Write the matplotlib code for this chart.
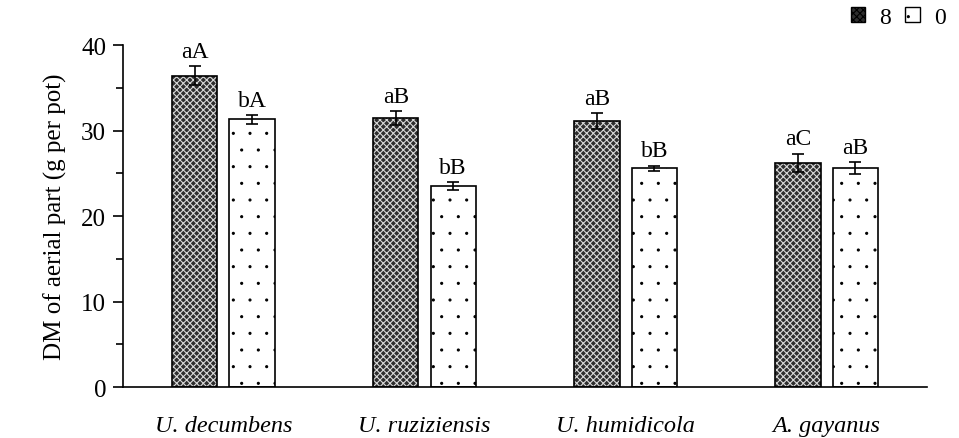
import matplotlib
matplotlib.use("Agg")
import matplotlib.pyplot as plt
import matplotlib.hatch
import numpy as np
from matplotlib.patches import Patch

categories = ["U. decumbens", "U. ruziziensis", "U. humidicola", "A. gayanus"]
series_names = ["8", "0"]
vals_8 = [36.4, 31.5, 31.1, 26.2]
err_8 = [1.1, 0.8, 0.9, 1.1]
vals_0 = [31.3, 23.5, 25.6, 25.6]
err_0 = [0.5, 0.5, 0.3, 0.7]
labels_8 = ["aA", "aB", "aB", "aC"]
labels_0 = ["bA", "bB", "bB", "aB"]
yticks = [0, 10, 20, 30, 40]

plt.rcParams['font.family'] = ['Liberation Serif', 'DejaVu Serif']
plt.rcParams['hatch.linewidth'] = 0.8
# smaller dots for the '.' hatch
matplotlib.hatch.SmallFilledCircles.size = 0.06

FS = 17

fig = plt.figure(figsize=(9.59, 4.39), dpi=100)
ax = fig.add_axes([0.128, 0.116, 0.839, 0.779])

x = np.arange(len(categories))
w = 0.225
off = 0.1425

# dark hatched bars
ax.bar(x - off, vals_8, w, color='#2e2e2e', edgecolor='#d8d8d8', hatch='xxxxx', linewidth=0, zorder=2)
ax.bar(x - off, vals_8, w, fill=False, edgecolor='black', linewidth=1.2, zorder=3)
ax.errorbar(x - off, vals_8, yerr=err_8, fmt='none', ecolor='black', elinewidth=1.2, capsize=4, capthick=1.2, zorder=4)

# light dotted bars
ax.bar(x + off, vals_0, w, color='white', edgecolor='black', hatch='.', linewidth=0, zorder=2)
ax.bar(x + off, vals_0, w, fill=False, edgecolor='black', linewidth=1.2, zorder=3)
ax.errorbar(x + off, vals_0, yerr=err_0, fmt='none', ecolor='black', elinewidth=1.2, capsize=4, capthick=1.2, zorder=4)

for i in range(len(categories)):
    ax.text(x[i] - off, vals_8[i] + err_8[i] + 0.5, labels_8[i], ha='center', va='bottom', fontsize=FS)
    ax.text(x[i] + off, vals_0[i] + err_0[i] + 0.5, labels_0[i], ha='center', va='bottom', fontsize=FS)

ax.set_xlim(-0.5, len(categories) - 0.5)
ax.set_ylim(0, 40)
ax.set_yticks(yticks)
ax.set_yticks([5, 15, 25, 35], minor=True)
ax.set_xticks(x)
ax.set_xticklabels(categories, fontstyle='italic', fontsize=FS + 0.5)
ax.tick_params(axis='x', length=0, pad=20)
ax.tick_params(axis='y', which='major', direction='out', length=7, width=1.2, labelsize=FS + 1, pad=5)
ax.tick_params(axis='y', which='minor', direction='out', length=5, width=1.2)
ax.set_ylabel("DM of aerial part (g per pot)", fontsize=FS + 1, labelpad=10)
for s in ['top', 'right']:
    ax.spines[s].set_visible(False)
for s in ['left', 'bottom']:
    ax.spines[s].set_linewidth(1.2)

handles = [Patch(facecolor='#2e2e2e', edgecolor='black', hatch='xxxxx'),
           Patch(facecolor='white', edgecolor='black', hatch='.')]
leg = fig.legend(handles, series_names, loc='upper right', bbox_to_anchor=(1.008, 1.03), ncol=2,
                 frameon=False, fontsize=FS, handlelength=0.6, handleheight=0.6,
                 handletextpad=0.6, columnspacing=0.6)

fig.savefig("out.png", dpi=100)
